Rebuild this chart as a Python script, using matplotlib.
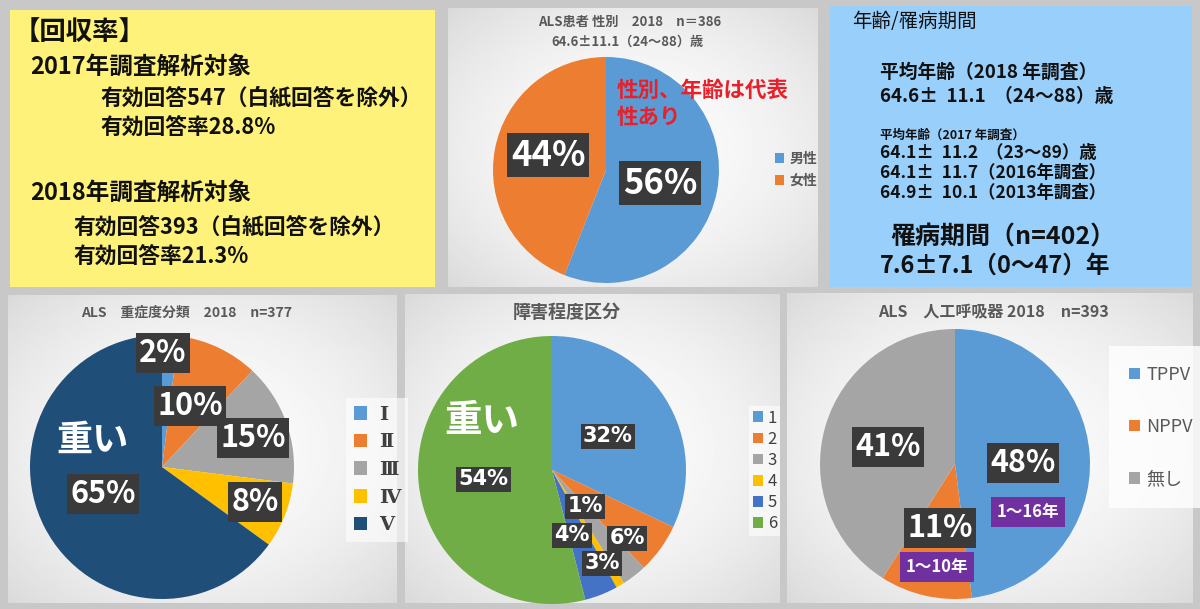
import numpy as np
import matplotlib
matplotlib.use("Agg")
import matplotlib.pyplot as plt
from matplotlib.patches import Rectangle

plt.rcParams['font.family'] = ['Noto Sans CJK JP', 'DejaVu Sans']

# ---- data ----
gender_labels = ['男性', '女性']
gender_pct = [56, 44]

severity_labels = ['Ⅰ', 'Ⅱ', 'Ⅲ', 'Ⅳ', 'Ⅴ']
severity_pct = [2, 10, 15, 8, 65]

disability_labels = ['1', '2', '3', '4', '5', '6']
disability_pct = [32, 6, 3, 1, 4, 54]

vent_labels = ['TPPV', 'NPPV', '無し']
vent_pct = [48, 11, 41]
vent_years = ['1～16年', '1～10年', None]

recovery_lines = ['【回収率】', '2017年調査解析対象', '有効回答547（白紙回答を除外）',
                  '有効回答率28.8%', '2018年調査解析対象',
                  '有効回答393（白紙回答を除外）', '有効回答率21.3%']

age_lines = ['年齢/罹病期間', '平均年齢（2018 年調査）', '64.6±  11.1  （24～88）歳',
             '平均年齢（2017 年調査）', '64.1±  11.2  （23～89）歳',
             '64.1±  11.7（2016年調査）', '64.9±  10.1（2013年調査）',
             '罹病期間（n=402）', '7.6±7.1（0～47）年']

# ---- colours ----
BLUE, ORANGE, GRAY, YELLOW = '#5B9BD5', '#ED7D31', '#A5A5A5', '#FFC000'
NAVY, MBLUE, GREEN = '#1F4E79', '#4472C4', '#70AD47'
BOX = '#3a3a3a'
TITLE = '#595959'

W, H = 1200, 609
fig = plt.figure(figsize=(12, 6.09), dpi=100, facecolor='#c8c8c8')


def fx(x):
    return x / W


def fy(y):
    return 1 - y / H


def flat_panel(x0, y0, x1, y1, color):
    fig.add_artist(Rectangle((fx(x0), fy(y1)), (x1 - x0) / W, (y1 - y0) / H,
                             transform=fig.transFigure, fc=color, ec='none'))


def chart_panel(x0, y0, x1, y1):
    ax = fig.add_axes([fx(x0), fy(y1), (x1 - x0) / W, (y1 - y0) / H])
    yy, xx = np.mgrid[-1:1:200j, -1:1:200j]
    d = (xx ** 2 + yy ** 2) / 2
    ax.imshow(0.985 - 0.13 * d, cmap='gray', vmin=0, vmax=1,
              extent=[0, 1, 0, 1], aspect='auto')
    ax.set_axis_off()


def pie_at(cx, cy, r, values, colors):
    ra = r * 1.02
    ax = fig.add_axes([fx(cx - ra), fy(cy + ra), 2 * ra / W, 2 * ra / H])
    wedges, _ = ax.pie(values, colors=colors, startangle=90, counterclock=False,
                       radius=1, wedgeprops=dict(linewidth=0))
    ax.set_xlim(-1.02, 1.02)
    ax.set_ylim(-1.02, 1.02)
    ax.set_axis_off()
    return wedges


def box(x, y, s, size, fc=BOX, family=None, pad=0.12):
    kw = {}
    if family:
        kw['family'] = family
    fig.text(fx(x), fy(y), s, ha='center', va='center', color='white',
             fontsize=size, fontweight='bold',
             bbox=dict(boxstyle='square,pad=%.2f' % pad, fc=fc, ec='none'), **kw)


def line(x, y, s, size, weight='bold', color='#111111', ha='left', **kw):
    fig.text(fx(x), fy(y), s, ha=ha, va='center', fontsize=size,
             fontweight=weight, color=color, **kw)


# ---- panels ----
flat_panel(10, 10, 435, 287, '#FFF27A')
flat_panel(830, 6, 1192, 287, '#99CFFB')
chart_panel(448, 8, 818, 287)
chart_panel(8, 295, 397, 603)
chart_panel(405, 294, 780, 603)
chart_panel(787, 293, 1193, 603)

# ---- yellow text block ----
rec_pos = [(14, 32, 19), (30, 67, 17), (100, 98, 15.7), (100, 128, 15.7),
           (30, 193, 17), (73, 227, 15.7), (73, 257, 15.7)]
for s, (x, y, size) in zip(recovery_lines, rec_pos):
    line(x, y, s, size)

# ---- blue text block ----
age_pos = [(852, 21, 14, 'normal'), (880, 72, 13.5, 'bold'), (880, 97, 13.5, 'bold'),
           (880, 135, 9, 'bold'), (880, 153, 12.5, 'bold'), (880, 173, 12.5, 'bold'),
           (880, 193, 12.5, 'bold'), (890, 237, 18, 'bold'), (880, 266, 17, 'bold')]
for s, (x, y, size, wt) in zip(age_lines, age_pos):
    line(x, y, s, size, weight=wt)

# ---- gender pie ----
g = pie_at(606, 170, 113, gender_pct, [BLUE, ORANGE])
line(630, 22, 'ALS患者 性別　2018　n＝386', 9.5, color=TITLE, ha='center')
line(627, 42, '64.6±11.1（24～88）歳', 9.5, color=TITLE, ha='center')
for (x, y), v in zip([(660, 183), (548, 155)], gender_pct):
    box(x, y, '%d%%' % v, 25)
line(617, 90, '性別、年齢は代表', 15.5, color='#E8202A')
line(617, 117, '性あり', 15.5, color='#E8202A')
fig.legend(g, gender_labels, loc='center left', bbox_to_anchor=(fx(762), fy(170)),
           frameon=False, prop=dict(size=10, weight='bold'), handlelength=0.7,
           handleheight=0.7, handletextpad=0.4, labelspacing=0.6, labelcolor=TITLE)

# ---- severity pie ----
s = pie_at(162, 467, 132, severity_pct, [BLUE, ORANGE, GRAY, YELLOW, NAVY])
line(187, 313, 'ALS　重症度分類　2018　n=377', 10, color=TITLE, ha='center')
sev_pos = [(163, 353), (190, 406), (253, 438), (255, 502), (103, 494)]
for (x, y), v in zip(sev_pos, severity_pct):
    box(x, y, '%d%%' % v, 22)
line(93, 440, '重い', 26, color='white', ha='center')
fig.legend(s, severity_labels, loc='center left', bbox_to_anchor=(fx(336), fy(470)),
           frameon=True, facecolor='white', edgecolor='none', framealpha=0.6,
           fancybox=False, prop=dict(family=['DejaVu Serif', 'Noto Sans CJK JP'],
                                     weight='bold', size=14),
           handlelength=0.7, handleheight=0.7, handletextpad=0.6,
           labelspacing=0.5, labelcolor='#404040')

# ---- disability pie ----
d = pie_at(552, 470, 134, disability_pct, [BLUE, ORANGE, GRAY, YELLOW, MBLUE, GREEN])
line(567, 312, '障害程度区分', 13, color=TITLE, ha='center')
dis_pos = [(608, 436), (627, 538), (602, 563), (585, 506), (572, 535), (483, 479)]
for (x, y), v in zip(dis_pos, disability_pct):
    box(x, y, '%d%%' % v, 15, family=['Liberation Sans Narrow', 'DejaVu Sans'])
line(482, 421, '重い', 27, color='white', ha='center')
fig.legend(d, disability_labels, loc='center left', bbox_to_anchor=(fx(741), fy(471)),
           frameon=True, facecolor='white', edgecolor='none', framealpha=0.6,
           fancybox=False, fontsize=12, handlelength=0.6, handleheight=0.6,
           handletextpad=0.3, labelspacing=0.25, borderpad=0.2, labelcolor='#404040')

# ---- ventilator pie ----
v = pie_at(955, 464, 135, vent_pct, [BLUE, ORANGE, GRAY])
line(993, 312, 'ALS　人工呼吸器 2018　n=393', 11.5, color=TITLE, ha='center')
vent_pos = [(1023, 463), (940, 528), (888, 447)]
for (x, y), val in zip(vent_pos, vent_pct):
    box(x, y, '%d%%' % val, 22)
for (x, y), yr in zip([(1028, 512), (937, 567)], vent_years):
    if yr:
        box(x, y, yr, 12, fc='#7030A0', pad=0.35)
fig.legend(v, vent_labels, loc='center left', bbox_to_anchor=(fx(1100), fy(427)),
           frameon=True, facecolor='white', edgecolor='none', framealpha=0.8,
           fancybox=False, fontsize=13, handlelength=0.6, handleheight=0.6,
           handletextpad=0.35, labelspacing=1.9, borderpad=1.1, labelcolor=TITLE)

fig.savefig('out.png', dpi=100, facecolor=fig.get_facecolor())
